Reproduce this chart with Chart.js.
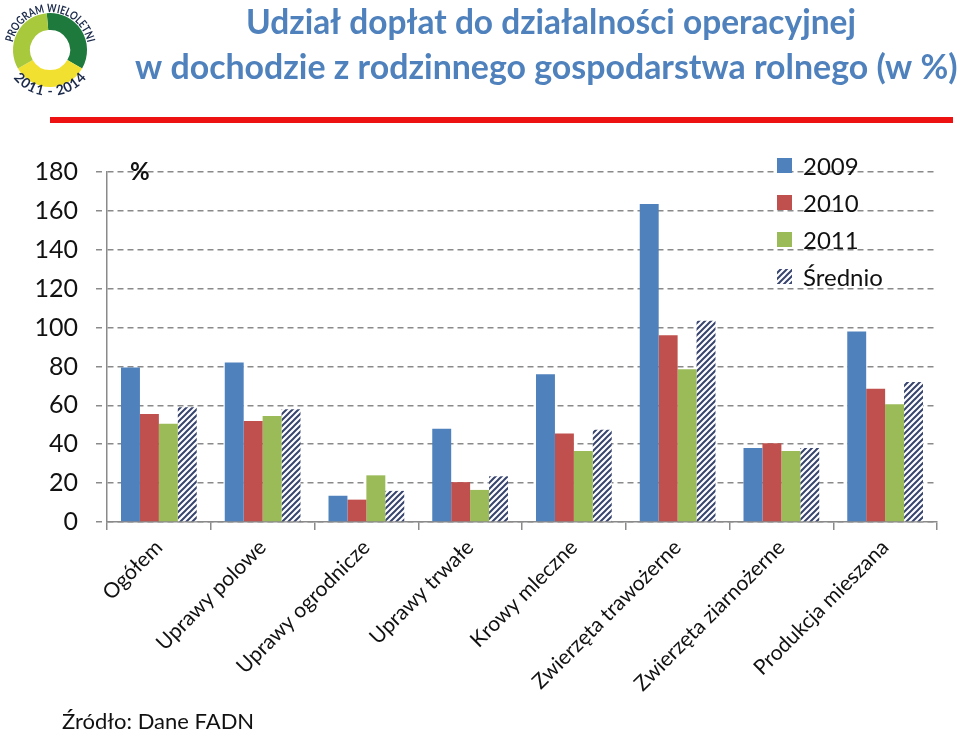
<!DOCTYPE html>
<html>
<head>
<meta charset="utf-8">
<script src="https://cdn.jsdelivr.net/npm/chart.js@4"></script>
<style>
  html, body { margin: 0; padding: 0; background: #fff; }
  #wrap { position: relative; width: 960px; height: 732px; overflow: hidden; }
  #c { position: absolute; left: 0; top: 0; }
  #logo { position: absolute; left: 0; top: 0; }
</style>
</head>
<body>
<div id="wrap">
  <canvas id="c" width="960" height="732"></canvas>
  <svg id="logo" width="110" height="105" viewBox="0 0 110 105">
    <defs>
      <path id="topArc" d="M 12.6,43.4 A 38,38 0 0 1 87.4,43.4" />
      <path id="botArc" d="M 12.3,76.4 A 46,46 0 0 0 87.7,76.4" />
    </defs>
    <g fill="none" stroke-width="17">
      <path d="M 47.5,21.6 A 28.5,28.5 0 0 1 74.7,64.25" stroke="#1d7a3c"/>
      <path d="M 74.7,64.25 A 28.5,28.5 0 0 1 25.3,64.25" stroke="#f2e030"/>
      <path d="M 25.3,64.25 A 28.5,28.5 0 0 1 47.5,21.6" stroke="#a8c93c"/>
    </g>
    <text font-family="Lato, sans-serif" font-size="11.5" font-weight="bold" fill="#1b2a4a">
      <textPath href="#topArc" startOffset="50%" text-anchor="middle" textLength="104" lengthAdjust="spacingAndGlyphs">PROGRAM WIELOLETNI</textPath>
    </text>
    <text font-family="Lato, sans-serif" font-size="14" font-weight="bold" fill="#1b2a4a">
      <textPath href="#botArc" startOffset="50%" text-anchor="middle" textLength="84" lengthAdjust="spacing">2011 - 2014</textPath>
    </text>
  </svg>
</div>
<script>
// ---- data ----
const categories = ['Ogółem', 'Uprawy polowe', 'Uprawy ogrodnicze', 'Uprawy trwałe',
  'Krowy mleczne', 'Zwierzęta trawożerne', 'Zwierzęta ziarnożerne', 'Produkcja mieszana'];
const seriesNames = ['2009', '2010', '2011', 'Średnio'];
const values2009 = [79.5, 82, 13.5, 48, 76, 163.5, 38, 98];
const values2010 = [55.5, 52, 11.5, 20.5, 45.5, 96, 40.5, 68.5];
const values2011 = [50.5, 54.5, 24, 16.5, 36.5, 78.5, 36.5, 60.5];
const valuesAvg = [59, 58, 16, 23.5, 47.5, 103.5, 38, 72];
const yTicks = [0, 20, 40, 60, 80, 100, 120, 140, 160, 180];
const titleLines = ['Udział dopłat do działalności operacyjnej',
  'w dochodzie z rodzinnego gospodarstwa rolnego (w %)'];
const sourceText = 'Źródło: Dane FADN';
const unitLabel = '%';

// ---- hatch pattern ----
function makeHatch() {
  const s = 6;
  const p = document.createElement('canvas');
  p.width = s; p.height = s;
  const g = p.getContext('2d');
  g.fillStyle = '#ffffff';
  g.fillRect(0, 0, s, s);
  g.strokeStyle = '#37446e';
  g.lineWidth = 2;
  g.beginPath();
  g.moveTo(-1, s + 1); g.lineTo(s + 1, -1);
  g.moveTo(-1, 1); g.lineTo(1, -1);
  g.moveTo(s - 1, s + 1); g.lineTo(s + 1, s - 1);
  g.stroke();
  return document.getElementById('c').getContext('2d').createPattern(p, 'repeat');
}
const hatch = makeHatch();
const FONT = 'Lato, "Open Sans", sans-serif';

function fitFont(ctx, text, width, weight) {
  let size = 40;
  ctx.font = weight + ' ' + size + 'px ' + FONT;
  const w = ctx.measureText(text).width;
  return size * width / w;
}

const decor = {
  id: 'decor',
  beforeDraw(chart) {
    const ctx = chart.ctx;
    ctx.save();
    // title
    ctx.fillStyle = '#4f81bd';
    ctx.textAlign = 'left';
    ctx.textBaseline = 'alphabetic';
    let s1 = fitFont(ctx, titleLines[0], 610, 'bold');
    ctx.font = 'bold ' + s1 + 'px ' + FONT;
    ctx.fillText(titleLines[0], 246, 34);
    let s2 = fitFont(ctx, titleLines[1], 823, 'bold');
    ctx.font = 'bold ' + s2 + 'px ' + FONT;
    ctx.fillText(titleLines[1], 135, 79);
    // red line
    ctx.fillStyle = '#ee1111';
    ctx.fillRect(50, 117, 903, 6);
    // source
    ctx.fillStyle = '#111';
    ctx.font = '22px ' + FONT;
    ctx.fillText(sourceText, 62, 729);
    ctx.restore();
  },
  afterDraw(chart) {
    const ctx = chart.ctx;
    const area = chart.chartArea;
    ctx.save();
    // unit label
    ctx.fillStyle = '#111';
    ctx.font = 'bold 24px ' + FONT;
    ctx.textBaseline = 'middle';
    ctx.fillText(unitLabel, 130, area.top);
    // legend
    ctx.font = '24px ' + FONT;
    chart.data.datasets.forEach((ds, i) => {
      const cy = 166 + i * 37;
      const bx = 777;
      ctx.fillStyle = ds.backgroundColor;
      ctx.fillRect(bx, cy - 8, 15, 15);
      ctx.fillStyle = '#111';
      ctx.fillText(ds.label, 803, cy + 1);
    });
    ctx.restore();
  }
};

new Chart(document.getElementById('c'), {
  type: 'bar',
  data: {
    labels: categories,
    datasets: [
      { label: seriesNames[0], data: values2009, backgroundColor: '#4f81bd' },
      { label: seriesNames[1], data: values2010, backgroundColor: '#c0504d' },
      { label: seriesNames[2], data: values2011, backgroundColor: '#9bbb59' },
      { label: seriesNames[3], data: valuesAvg, backgroundColor: hatch }
    ]
  },
  options: {
    responsive: false,
    animation: false,
    devicePixelRatio: 1,
    layout: { padding: { top: 172, right: 23, bottom: 0, left: 0 } },
    plugins: { legend: { display: false }, tooltip: { enabled: false }, title: { display: false } },
    datasets: { bar: { categoryPercentage: 0.73, barPercentage: 1.0 } },
    scales: {
      x: {
        afterFit(scale) { scale.height = 210; },
        grid: { display: true, drawOnChartArea: false, offset: true, tickLength: 8, color: '#8a8a8a', lineWidth: 1.5 },
        border: { display: true, color: '#8a8a8a', width: 1.5 },
        ticks: {
          color: '#111', font: { family: FONT, size: 21 },
          maxRotation: 45, minRotation: 45, padding: 5, autoSkip: false
        }
      },
      y: {
        min: 0, max: 180,
        afterFit(scale) { scale.width = 107; },
        afterBuildTicks(scale) { scale.ticks = yTicks.map(v => ({ value: v })); },
        grid: { color: '#8a8a8a', lineWidth: 1.5, tickLength: 11, tickBorderDash: [6, 4] },
        border: { display: true, color: '#8a8a8a', width: 1.5, dash: [6, 4] },
        ticks: { color: '#111', font: { family: FONT, size: 25 }, padding: 18 }
      }
    }
  },
  plugins: [decor]
});
</script>
</body>
</html>
